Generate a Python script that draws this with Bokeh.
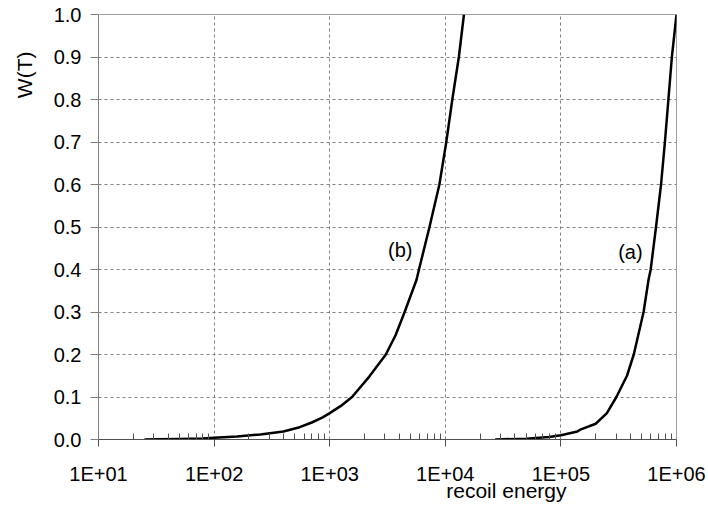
import math
from bokeh.plotting import figure
from bokeh.models import (FixedTicker, CustomJSTickFormatter, NumeralTickFormatter,
                          Label, Range1d, Title)
from bokeh.embed import file_html
from bokeh.resources import INLINE

# ---- data ----
energy_b = [25, 32, 50, 79, 100, 158, 251, 398, 550, 700, 870, 1000, 1250, 1560,
            2200, 3060, 3720, 4450, 5640, 5920, 7300, 8890, 10200, 11500, 13100, 14500]
w_b = [0.0, 0.0003, 0.001, 0.0025, 0.004, 0.007, 0.012, 0.019, 0.029, 0.040, 0.052,
       0.062, 0.079, 0.10, 0.148, 0.20, 0.246, 0.30, 0.376, 0.40, 0.50, 0.60, 0.70,
       0.80, 0.90, 1.0]

energy_a = [27000, 50000, 79000, 100000, 139000, 149000, 200000, 250000, 302000,
            373000, 427000, 519000, 573000, 598000, 665000, 735000, 794000, 851000,
            912000, 1000000]
w_a = [0.0, 0.002, 0.006, 0.010, 0.019, 0.024, 0.037, 0.062, 0.10, 0.15, 0.20,
       0.30, 0.376, 0.40, 0.50, 0.60, 0.70, 0.80, 0.90, 1.0]

x_major = [10, 100, 1000, 10000, 100000, 1000000]
x_minor = [k * d for d in [10, 100, 1000, 10000, 100000] for k in range(2, 10)]
y_major = [round(0.1 * i, 1) for i in range(11)]

curve_labels = ["(b)", "(a)"]
label_x = [4080, 399000]
label_y = [0.446, 0.442]

FONT = "Liberation Sans"

p = figure(width=708, height=510, x_axis_type="log",
           x_range=Range1d(10, 1e6), y_range=Range1d(0, 1),
           output_backend="svg", toolbar_location=None,
           min_border_left=95, min_border_right=32,
           min_border_top=14, min_border_bottom=71)
p.background_fill_color = "white"
p.border_fill_color = "white"
p.outline_line_color = "#a0a0a0"
p.outline_line_width = 1

# curves
p.line(energy_b, w_b, line_color="black", line_width=2.5, line_join="round")
p.line(energy_a, w_a, line_color="black", line_width=2.5, line_join="round")

# x axis
xa = p.xaxis[0]
xa.ticker = FixedTicker(ticks=x_major, minor_ticks=x_minor)
xa.formatter = CustomJSTickFormatter(code="""
    const e = Math.round(Math.log10(tick));
    return "1E+" + String(e).padStart(2, "0");
""")
xa.major_tick_in = 0
xa.major_tick_out = 7
xa.minor_tick_in = 6
xa.minor_tick_out = 0
xa.axis_line_color = "#505050"
xa.major_tick_line_color = "#505050"
xa.minor_tick_line_color = "#505050"
xa.major_label_text_font = FONT
xa.major_label_text_font_size = "20px"
xa.major_label_text_color = "black"
xa.major_label_standoff = 16

# y axis
ya = p.yaxis[0]
ya.ticker = FixedTicker(ticks=y_major)
ya.formatter = NumeralTickFormatter(format="0.0")
ya.major_tick_in = 0
ya.major_tick_out = 8
ya.minor_tick_line_color = None
ya.axis_line_color = "#808080"
ya.major_tick_line_color = "#808080"
ya.major_label_text_font = FONT
ya.major_label_text_font_size = "20px"
ya.major_label_text_color = "black"
ya.major_label_standoff = 9

# grids
p.xgrid[0].ticker = FixedTicker(ticks=x_major[1:-1])
p.ygrid[0].ticker = FixedTicker(ticks=y_major[1:-1])
for g in (p.xgrid[0], p.ygrid[0]):
    g.grid_line_color = "#808080"
    g.grid_line_dash = "3 3"
    g.grid_line_width = 1

# curve labels
for t, lx, ly in zip(curve_labels, label_x, label_y):
    p.add_layout(Label(x=lx, y=ly, text=t, text_font=FONT, text_font_size="20px",
                       text_align="center", text_baseline="middle", text_color="black"))

# axis titles placed like the reference
p.add_layout(Title(text="W(T)", align="right", offset=37, vertical_align="top",
                   standoff=25, text_font=FONT, text_font_size="21px",
                   text_font_style="normal", text_color="black"), "left")
p.add_layout(Title(text="recoil energy", align="right", offset=110, vertical_align="top",
                   standoff=-18, text_font=FONT, text_font_size="21px",
                   text_font_style="normal", text_color="black"), "below")

open("out.html", "w").write(file_html(p, INLINE))
